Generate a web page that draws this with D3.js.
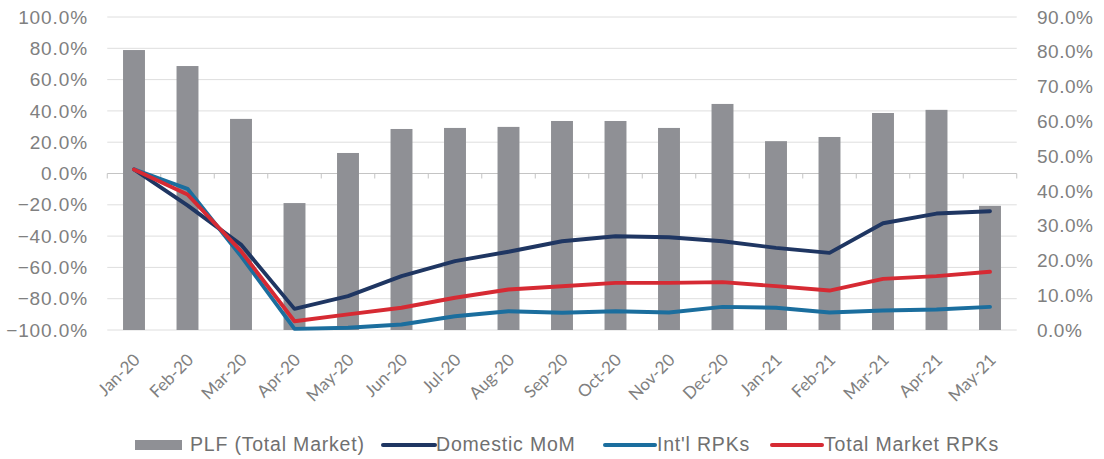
<!DOCTYPE html>
<html>
<head>
<meta charset="utf-8">
<script src="https://cdn.jsdelivr.net/npm/d3@7"></script>
<style>
	body { margin: 0; background: #fff; }
	svg { display: block; }
	.lbl { font-family: "Liberation Sans", Arial, sans-serif; fill: #808080; }
	.xlbl { font-family: Lato, "Open Sans", sans-serif; fill: #808080; }
</style>
</head>
<body>
<svg id="chart" width="1104" height="459"></svg>
<script>
// chart data
var months = ['Jan-20', 'Feb-20', 'Mar-20', 'Apr-20', 'May-20', 'Jun-20', 'Jul-20', 'Aug-20', 'Sep-20',
	'Oct-20', 'Nov-20', 'Dec-20', 'Jan-21', 'Feb-21', 'Mar-21', 'Apr-21', 'May-21'];
var plf = [0.805, 0.759, 0.607, 0.365, 0.509, 0.578, 0.581, 0.584, 0.601,
	0.601, 0.581, 0.650, 0.543, 0.555, 0.624, 0.633, 0.357];
var domestic = [0.026, -0.204, -0.454, -0.865, -0.784, -0.656, -0.560, -0.500, -0.433,
	-0.401, -0.407, -0.433, -0.475, -0.507, -0.318, -0.256, -0.241];
var intl = [0.026, -0.098, -0.528, -0.993, -0.986, -0.965, -0.912, -0.880, -0.890,
	-0.880, -0.888, -0.852, -0.858, -0.888, -0.875, -0.869, -0.852];
var total = [0.026, -0.134, -0.496, -0.944, -0.900, -0.858, -0.794, -0.741, -0.720,
	-0.699, -0.699, -0.694, -0.720, -0.748, -0.673, -0.656, -0.628];
var leftTicks = [-1, -0.8, -0.6, -0.4, -0.2, 0, 0.2, 0.4, 0.6, 0.8, 1];
var rightTicks = [0, 0.1, 0.2, 0.3, 0.4, 0.5, 0.6, 0.7, 0.8, 0.9];

var series = [
	{ name: 'Domestic MoM', values: domestic, color: '#1f3662' },
	{ name: "Int'l RPKs", values: intl, color: '#1b6e9e' },
	{ name: 'Total Market RPKs', values: total, color: '#d62a33' }
];

var plot = { left: 107.25, right: 1016.75, top: 17, bottom: 330 };
var svg = d3.select('#chart');
var pct = d3.format('.1%');

var x = d3.scaleBand().domain(months).range([plot.left, plot.right])
	.paddingInner(0.59).paddingOuter(0.295);
var y = d3.scaleLinear().domain([-1, 1]).range([plot.bottom, plot.top]);
var y2 = d3.scaleLinear().domain([0, 0.9]).range([plot.bottom, plot.top]);

// gridlines
svg.append('g').selectAll('line')
	.data(leftTicks).enter()
	.append('line')
	.attr('x1', plot.left).attr('x2', plot.right)
	.attr('y1', d => y(d)).attr('y2', d => y(d))
	.attr('stroke', d => d === 0 ? '#c4c4c4' : '#dedede')
	.attr('stroke-width', 1);

// tick marks on the zero line at the category boundaries
var bounds = months.map(m => x(m) - x.step() * x.paddingInner() / 2).concat([plot.right]);
svg.append('g').selectAll('line')
	.data(bounds).enter()
	.append('line')
	.attr('x1', d => d).attr('x2', d => d)
	.attr('y1', y(0)).attr('y2', y(0) + 5)
	.attr('stroke', '#c4c4c4');

// PLF bars on the right axis
svg.append('g').selectAll('rect')
	.data(plf).enter()
	.append('rect')
	.attr('x', (d, i) => x(months[i]))
	.attr('width', x.bandwidth())
	.attr('y', d => y2(d))
	.attr('height', d => y2(0) - y2(d))
	.attr('fill', '#8f9095');

var line = d3.line()
	.x((d, i) => x(months[i]) + x.bandwidth() / 2)
	.y(d => y(d));

svg.append('g').selectAll('path')
	.data(series).enter()
	.append('path')
	.attr('d', d => line(d.values))
	.attr('fill', 'none')
	.attr('stroke', d => d.color)
	.attr('stroke-width', 3.9)
	.attr('stroke-linejoin', 'round')
	.attr('stroke-linecap', 'round');

// left axis labels
svg.append('g').selectAll('text')
	.data(leftTicks).enter()
	.append('text')
	.attr('class', 'lbl')
	.attr('x', 88)
	.attr('y', d => y(d))
	.attr('dy', '0.35em')
	.attr('text-anchor', 'end')
	.style('font-size', '19px')
	.style('letter-spacing', '0.9px')
	.text(d => pct(d));

// right axis labels
svg.append('g').selectAll('text')
	.data(rightTicks).enter()
	.append('text')
	.attr('class', 'lbl')
	.attr('x', 1037)
	.attr('y', d => y2(d))
	.attr('dy', '0.35em')
	.style('font-size', '19px')
	.style('letter-spacing', '0.5px')
	.text(d => pct(d));

// month labels, rotated
svg.append('g').selectAll('text')
	.data(months).enter()
	.append('text')
	.attr('class', 'xlbl')
	.attr('text-anchor', 'end')
	.attr('transform', d => 'translate(' + (x(d) + x.bandwidth() / 2 + 7) + ',361) rotate(-45)')
	.style('font-size', '17px')
	.text(d => d);

// legend
var legend = svg.append('g').attr('class', 'legend');
legend.append('rect')
	.attr('x', 135).attr('y', 440)
	.attr('width', 47).attr('height', 10)
	.attr('fill', '#8f9095');
legend.append('text')
	.attr('class', 'lbl')
	.attr('x', 190).attr('y', 444).attr('dy', '0.35em')
	.style('font-size', '19.5px').style('fill', '#707070')
	.style('letter-spacing', '0.8px')
	.text('PLF (Total Market)');

var legendPos = [
	{ x1: 383, x2: 435, tx: 436 },
	{ x1: 605, x2: 655, tx: 657 },
	{ x1: 772, x2: 822, tx: 824 }
];
series.forEach(function (s, i) {
	var p = legendPos[i];
	legend.append('line')
		.attr('x1', p.x1).attr('x2', p.x2)
		.attr('y1', 445).attr('y2', 445)
		.attr('stroke', s.color)
		.attr('stroke-width', 4)
		.attr('stroke-linecap', 'round');
	legend.append('text')
		.attr('class', 'lbl')
		.attr('x', p.tx).attr('y', 444).attr('dy', '0.35em')
		.style('font-size', '19.5px').style('fill', '#707070')
		.style('letter-spacing', '0.8px')
		.text(s.name);
});
</script>
</body>
</html>
